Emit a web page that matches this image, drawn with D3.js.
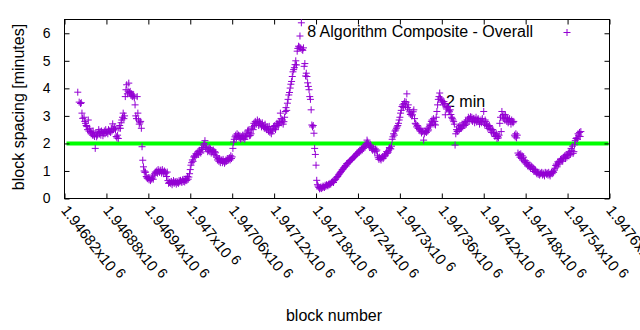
<!DOCTYPE html>
<html><head><meta charset="utf-8">
<script src="https://cdn.jsdelivr.net/npm/d3@7"></script>
<style>body{margin:0;background:#fff}</style>
</head><body><svg id="c" width="640" height="330"></svg>
<script>
// first reading pass
const blocks = [1946839,1946841,1946845,1946846,1946850,1946852,1946854,1946857,1946862,1946864,1946866,1946871,1946876,1946881,1946885,1946889,1946893,1946897,1946900,1946902,1946904,1946907,1946909,1946912,1946914,1946919,1946921,1946924,1946925,1946926,1946928,1946930,1946931,1946932,1946933,1946936,1946940,1946945,1946950,1946957,1946964,1946967,1946971,1946979,1946986,1946993,1946998,1947001,1947005,1947010,1947014,1947019,1947021,1947026,1947033,1947036,1947040,1947045,1947050,1947055,1947060,1947061,1947064,1947069,1947074,1947079,1947083,1947086,1947091,1947096,1947100,1947105,1947110,1947115,1947119,1947124,1947129,1947134,1947136,1947139,1947141,1947143,1947146,1947148,1947150,1947153,1947155,1947157,1947158,1947159,1947160,1947162,1947163,1947167,1947169,1947171,1947173,1947174,1947177,1947178,1947180,1947181,1947186,1947191,1947196,1947203,1947210,1947217,1947224,1947232,1947239,1947243,1947246,1947251,1947253,1947258,1947262,1947267,1947272,1947277,1947282,1947286,1947290,1947294,1947298,1947301,1947303,1947307,1947310,1947313,1947318,1947320,1947322,1947327,1947332,1947334,1947337,1947341,1947346,1947351,1947353,1947357,1947359,1947363,1947365,1947369,1947372,1947375,1947377,1947379,1947382,1947387,1947391,1947396,1947401,1947406,1947411,1947415,1947420,1947423,1947427,1947432,1947437,1947439,1947443,1947445,1947446,1947451,1947456,1947461,1947465,1947468,1947470,1947475,1947480,1947484,1947489,1947494,1947497,1947502,1947509,1947516,1947521,1947526,1947531,1947535,1947540,1947545,1947548,1947552,1947556,1947559];
const spacing = [3.86,3.50,3.10,2.91,2.73,2.61,2.85,2.43,2.30,1.82,2.24,2.43,2.37,2.43,2.43,2.71,2.49,2.18,2.55,2.85,3.10,3.70,4.13,4.19,3.89,3.76,3.40,3.70,3.10,2.85,2.75,2.55,1.88,1.39,1.15,0.96,0.76,0.72,0.96,1.03,0.96,0.96,0.60,0.60,0.66,0.66,0.78,1.21,1.51,1.64,1.69,1.94,2.10,1.76,1.76,1.66,1.45,1.39,1.33,1.42,1.51,1.82,2.24,2.30,2.18,2.24,2.49,2.30,2.73,2.85,2.73,2.61,2.61,2.49,2.61,2.73,3.10,2.79,3.16,3.46,3.76,4.01,4.43,4.68,4.86,5.35,5.53,5.90,5.47,6.38,5.41,5.47,4.80,4.43,4.07,3.70,3.22,2.67,2.37,1.82,1.21,0.66,0.38,0.42,0.48,0.60,0.78,1.03,1.27,1.45,1.64,1.76,1.76,1.94,2.12,1.94,1.82,1.76,1.45,1.51,1.64,1.82,2.24,2.49,2.73,3.10,3.34,3.52,3.80,3.22,3.04,3.22,2.73,2.55,2.43,2.12,2.43,2.49,2.85,2.67,3.16,3.83,3.58,3.52,3.04,3.34,3.22,2.91,2.79,1.94,2.43,2.55,2.67,2.79,2.97,2.91,2.85,2.79,3.16,2.79,2.61,2.49,2.30,2.18,2.73,2.43,3.16,3.04,2.85,2.79,2.24,2.30,1.57,1.55,1.37,1.21,1.15,1.03,0.96,0.92,0.93,0.90,1.03,1.33,1.39,1.51,1.57,1.82,1.64,2.18,2.30,2.43];
// second reading pass (blocks in between)
const blocksB = [1946843,1946844,1946848,1946849,1946851,1946853,1946855,1946856,1946858,1946859,1946860,1946861,1946863,1946865,1946867,1946868,1946869,1946870,1946872,1946873,1946874,1946875,1946877,1946878,1946879,1946880,1946882,1946883,1946884,1946886,1946887,1946888,1946890,1946891,1946892,1946894,1946895,1946896,1946898,1946899,1946901,1946903,1946905,1946906,1946908,1946910,1946911,1946913,1946915,1946916,1946917,1946918,1946920,1946922,1946923,1946927,1946929,1946934,1946935,1946937,1946938,1946939,1946941,1946942,1946943,1946944,1946946,1946947,1946948,1946949,1946951,1946952,1946953,1946954,1946955,1946956,1946958,1946959,1946960,1946961,1946962,1946963,1946965,1946966,1946968,1946969,1946970,1946972,1946973,1946974,1946975,1946976,1946977,1946978,1946980,1946981,1946982,1946983,1946984,1946985,1946987,1946988,1946989,1946990,1946991,1946992,1946994,1946995,1946996,1946997,1946999,1947000,1947002,1947003,1947004,1947006,1947007,1947008,1947009,1947011,1947012,1947013,1947015,1947016,1947017,1947018,1947020,1947022,1947023,1947024,1947025,1947027,1947028,1947029,1947030,1947031,1947032,1947034,1947035,1947037,1947038,1947039,1947041,1947042,1947043,1947044,1947046,1947047,1947048,1947049,1947051,1947052,1947053,1947054,1947056,1947057,1947058,1947059,1947062,1947063,1947065,1947066,1947067,1947068,1947070,1947071,1947072,1947073,1947075,1947076,1947077,1947078,1947080,1947081,1947082,1947084,1947085,1947087,1947088,1947089,1947090,1947092,1947093,1947094,1947095,1947097,1947098,1947099,1947101,1947102,1947103,1947104,1947106,1947107,1947108,1947109,1947111,1947112,1947113,1947114,1947116,1947117,1947118,1947120,1947121,1947122,1947123,1947125,1947126,1947127,1947128,1947130,1947131,1947132,1947133,1947135,1947137,1947138,1947140,1947142,1947144,1947145,1947147,1947149,1947151,1947152,1947154,1947156,1947161,1947164,1947165,1947166,1947168,1947170,1947172,1947175,1947176,1947179,1947182,1947183,1947184,1947185,1947187,1947188,1947189,1947190,1947192,1947193,1947194,1947195,1947197,1947198,1947199,1947200,1947201,1947202,1947204,1947205,1947206,1947207,1947208,1947209,1947211,1947212,1947213,1947214,1947215,1947216,1947218,1947219,1947220,1947221,1947222,1947223,1947225,1947226,1947227,1947228,1947229,1947230,1947231,1947233,1947234,1947235,1947236,1947237,1947238,1947240,1947241,1947242,1947244,1947245,1947247,1947248,1947249,1947250,1947252,1947254,1947255,1947256,1947257,1947259,1947260,1947261,1947263,1947264,1947265,1947266,1947268,1947269,1947270,1947271,1947273,1947274,1947275,1947276,1947278,1947279,1947280,1947281,1947283,1947284,1947285,1947287,1947288,1947289,1947291,1947292,1947293,1947295,1947296,1947297,1947299,1947300,1947302,1947304,1947305,1947306,1947308,1947309,1947311,1947312,1947314,1947315,1947316,1947317,1947319,1947321,1947323,1947324,1947325,1947326,1947328,1947329,1947330,1947331,1947333,1947335,1947336,1947338,1947339,1947340,1947342,1947343,1947344,1947345,1947347,1947348,1947349,1947350,1947352,1947354,1947355,1947356,1947358,1947360,1947361,1947362,1947364,1947366,1947367,1947368,1947370,1947371,1947373,1947374,1947376,1947378,1947380,1947381,1947383,1947384,1947385,1947386,1947388,1947389,1947390,1947392,1947393,1947394,1947395,1947397,1947398,1947399,1947400,1947402,1947403,1947404,1947405,1947407,1947408,1947409,1947410,1947412,1947413,1947414,1947416,1947417,1947418,1947419,1947421,1947422,1947424,1947425,1947426,1947428,1947429,1947430,1947431,1947433,1947434,1947435,1947436,1947438,1947440,1947441,1947442,1947444,1947447,1947448,1947449,1947450,1947452,1947453,1947454,1947455,1947457,1947458,1947459,1947460,1947462,1947463,1947464,1947466,1947467,1947469,1947471,1947472,1947473,1947474,1947476,1947477,1947478,1947479,1947481,1947482,1947483,1947485,1947486,1947487,1947488,1947490,1947491,1947492,1947493,1947495,1947496,1947498,1947499,1947500,1947501,1947503,1947504,1947505,1947506,1947507,1947508,1947510,1947511,1947512,1947513,1947514,1947515,1947517,1947518,1947519,1947520,1947522,1947523,1947524,1947525,1947527,1947528,1947529,1947530,1947532,1947533,1947534,1947536,1947537,1947538,1947539,1947541,1947542,1947543,1947544,1947546,1947547,1947549,1947550,1947551,1947553,1947554,1947555,1947557,1947558];
const spacingB = [3.45,3.48,2.95,2.80,2.65,2.50,2.45,2.55,2.35,2.40,2.30,2.45,2.25,2.35,2.30,2.40,2.50,2.35,2.30,2.45,2.40,2.28,2.45,2.35,2.50,2.40,2.35,2.50,2.45,2.40,2.55,2.45,2.50,2.55,2.60,2.25,2.20,2.30,2.55,2.65,2.75,2.95,2.90,3.00,3.95,3.80,3.90,3.85,3.75,3.80,3.70,3.72,3.65,3.00,2.90,2.70,2.80,1.00,0.95,0.80,0.75,0.72,0.68,0.75,0.65,0.70,0.78,0.70,0.85,0.90,0.95,1.00,0.92,1.05,0.98,0.95,1.00,0.92,1.05,0.97,0.90,1.00,0.92,0.80,0.65,0.55,0.58,0.55,0.62,0.50,0.58,0.65,0.55,0.60,0.52,0.62,0.58,0.55,0.65,0.60,0.62,0.58,0.68,0.62,0.70,0.60,0.72,0.65,0.80,0.70,0.90,1.05,1.30,1.40,1.35,1.55,1.50,1.62,1.58,1.70,1.60,1.75,1.65,1.80,1.85,1.78,2.00,1.85,1.90,1.80,1.70,1.85,1.70,1.80,1.65,1.75,1.70,1.60,1.70,1.55,1.50,1.40,1.35,1.45,1.30,1.40,1.30,1.42,1.35,1.28,1.40,1.35,1.45,1.38,1.48,1.40,1.55,1.45,2.05,2.15,2.30,2.20,2.35,2.25,2.20,2.28,2.15,2.25,2.30,2.20,2.30,2.15,2.35,2.25,2.45,2.40,2.28,2.35,2.55,2.60,2.50,2.65,2.80,2.75,2.70,2.78,2.65,2.80,2.70,2.60,2.75,2.65,2.55,2.70,2.58,2.50,2.55,2.45,2.62,2.40,2.35,2.50,2.45,2.55,2.65,2.50,2.60,2.70,2.65,2.80,2.75,2.90,2.75,2.85,2.70,2.95,3.30,3.20,3.60,3.85,4.15,4.25,4.60,4.75,5.00,4.85,5.45,5.50,5.38,4.90,4.45,4.55,4.20,3.95,3.60,2.60,2.65,1.60,0.50,0.45,0.40,0.35,0.42,0.36,0.40,0.45,0.40,0.48,0.44,0.50,0.46,0.52,0.50,0.55,0.52,0.58,0.62,0.58,0.65,0.68,0.70,0.75,0.80,0.85,0.88,0.92,0.95,0.98,1.05,1.10,1.12,1.15,1.20,1.18,1.25,1.30,1.32,1.35,1.38,1.40,1.42,1.48,1.50,1.52,1.55,1.58,1.62,1.66,1.70,1.68,1.72,1.80,1.85,1.82,1.90,1.88,2.00,2.05,1.98,1.92,1.85,1.88,1.80,1.75,1.78,1.70,1.80,1.72,1.55,1.48,1.42,1.50,1.40,1.48,1.52,1.45,1.58,1.55,1.62,1.70,1.68,1.75,1.85,1.80,1.90,2.15,2.35,2.30,2.45,2.55,2.60,2.65,2.85,2.95,3.20,3.40,3.30,3.45,3.35,3.50,3.30,3.40,3.15,3.05,3.10,3.00,3.15,2.90,2.70,2.60,2.65,2.55,2.50,2.45,2.52,2.38,2.45,2.35,2.45,2.40,2.55,2.45,2.60,2.70,2.65,2.80,2.75,2.90,2.70,2.80,2.95,3.40,3.60,3.70,3.65,3.55,3.50,3.40,3.45,3.35,3.25,3.30,3.20,3.15,3.05,2.95,2.85,2.70,2.35,2.50,2.45,2.60,2.50,2.65,2.55,2.70,2.60,2.75,2.65,2.80,2.70,2.85,2.95,2.80,2.90,2.85,2.95,2.80,2.90,2.75,2.85,2.95,2.78,2.90,2.80,2.70,2.85,2.75,2.90,2.80,2.70,2.85,2.65,2.70,2.55,2.65,2.50,2.55,2.40,2.50,2.35,2.40,2.25,2.35,2.25,2.20,2.30,2.95,3.00,2.90,3.05,2.85,2.95,2.80,2.90,2.75,2.90,2.80,2.70,2.85,2.75,2.80,2.30,2.35,2.20,1.65,1.60,1.50,1.62,1.45,1.40,1.50,1.35,1.30,1.25,1.30,1.18,1.15,1.22,1.10,1.18,1.05,1.10,0.98,1.05,0.95,0.90,0.88,0.95,0.85,0.90,0.95,0.85,0.92,0.88,0.82,0.95,0.88,0.92,0.85,0.95,0.88,0.82,0.95,0.90,0.98,0.95,1.10,1.20,1.25,1.15,1.25,1.35,1.30,1.42,1.45,1.35,1.48,1.55,1.45,1.60,1.50,1.65,1.55,1.70,1.60,1.75,1.90,1.70,1.95,2.10,2.20,2.15,2.35,2.40,2.25];
const yTicks = [0,1,2,3,4,5,6];
const xTicks = [1946820,1946880,1946940,1947000,1947060,1947120,1947180,1947240,1947300,1947360,1947420,1947480,1947540,1947600];
const xTickMantissa = ["1.94682","1.94688","1.94694","1.947","1.94706","1.94712","1.94718","1.94724","1.9473","1.94736","1.94742","1.94748","1.94754","1.9476"];
const xTickExponent = "6";
const seriesName = "8 Algorithm Composite - Overall";
const refValue = 2;
const refLabel = "2 min";
const xTitle = "block number";
const yTitle = "block spacing [minutes]";

const svg = d3.select("#c");
const font = "'Liberation Sans', Arial, sans-serif";
const L = 64.5, R = 609.5, T = 19.5, B = 198.5;
const x = d3.scaleLinear().domain([1946820, 1947600]).range([L, R]);
const y = d3.scaleLinear().domain([0, 6.5]).range([B, T]);
const purple = "#9400d3";

// reference line
svg.append("line").attr("x1", L + 2).attr("x2", R - 1)
  .attr("y1", y(refValue)).attr("y2", y(refValue))
  .attr("stroke", "#00ff00").attr("stroke-width", 4);

// ref label
svg.append("text").attr("x", 446).attr("y", 107).text(refLabel)
  .attr("font-family", font).attr("font-size", 16).attr("fill", "#000");

// frame
svg.append("rect").attr("x", L).attr("y", T).attr("width", R - L).attr("height", B - T)
  .attr("fill", "none").attr("stroke", "#000").attr("stroke-width", 1);

// axes ticks
const tl = 5;
const axL = d3.axisLeft(y).tickValues(yTicks).tickSize(-tl).tickPadding(tl + 9).tickFormat(d3.format("d"));
const gL = svg.append("g").attr("transform", `translate(${L},0)`).call(axL);
const axR = d3.axisRight(y).tickValues(yTicks).tickSize(-tl).tickFormat("");
const gR = svg.append("g").attr("transform", `translate(${R},0)`).call(axR);
const axB = d3.axisBottom(x).tickValues(xTicks).tickSize(-tl).tickFormat("");
const gB = svg.append("g").attr("transform", `translate(0,${B})`).call(axB);
const axT = d3.axisTop(x).tickValues(xTicks).tickSize(-tl).tickFormat("");
const gT = svg.append("g").attr("transform", `translate(0,${T})`).call(axT);
[gL, gR, gB, gT].forEach(g => { g.select(".domain").remove(); g.selectAll("line").attr("stroke", "#000"); });
gL.selectAll("text").attr("font-family", font).attr("font-size", 14).attr("fill", "#000");

// x tick labels rotated
const xl = svg.append("g");
xTicks.forEach((t, i) => {
  const tx = xl.append("text").attr("font-family", font).attr("font-size", 15).attr("fill", "#000")
    .attr("transform", `translate(${x(t) - 4},${B + 12}) rotate(52)`);
  tx.append("tspan").text(xTickMantissa[i] + "x10");
  tx.append("tspan").attr("dx", 4).attr("dy", -4).attr("font-size", 14).text(xTickExponent);
});

// points
const pts = blocks.map((b, i) => [b, spacing[i]]).concat(blocksB.map((b, i) => [b, spacingB[i]]));
const s = 3.5;
svg.append("g").selectAll("path").data(pts).join("path")
  .attr("d", d => `M${x(d[0]) - s},${y(d[1])}h${2 * s}M${x(d[0])},${y(d[1]) - s}v${2 * s}`)
  .attr("stroke", purple).attr("stroke-width", 1).attr("fill", "none");

// legend
svg.append("text").attr("x", 533).attr("y", 37).attr("text-anchor", "end").text(seriesName)
  .attr("font-family", font).attr("font-size", 16).attr("fill", "#000");
svg.append("path").attr("d", `M${567 - s},32.5h${2 * s}M567,${32.5 - s}v${2 * s}`)
  .attr("stroke", purple).attr("stroke-width", 1);

// titles
svg.append("text").attr("x", 334).attr("y", 321).attr("text-anchor", "middle").text(xTitle)
  .attr("font-family", font).attr("font-size", 16).attr("fill", "#000");
svg.append("text").attr("transform", "translate(24,107) rotate(-90)").attr("text-anchor", "middle").text(yTitle)
  .attr("font-family", font).attr("font-size", 16).attr("fill", "#000");
</script></body></html>
